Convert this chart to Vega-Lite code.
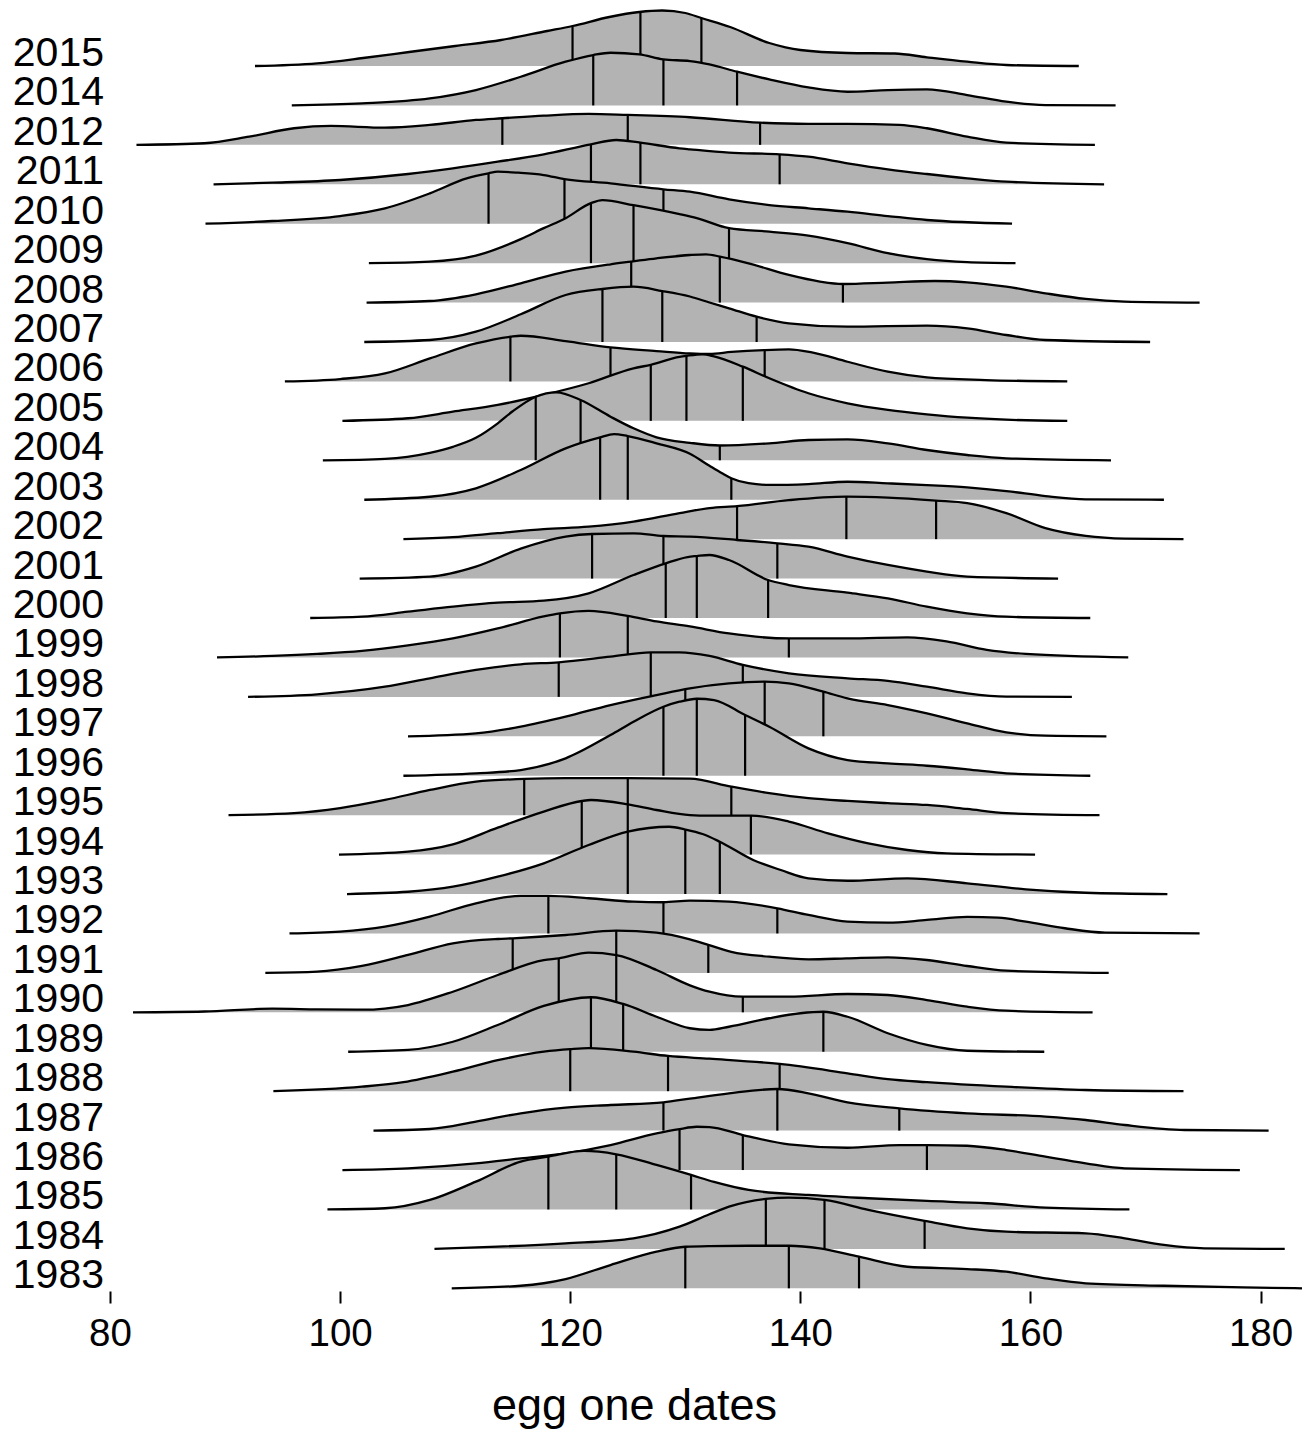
{
  "$schema": "https://vega.github.io/schema/vega-lite/v6.json",
  "padding": {"left": 12, "top": 5, "right": 4, "bottom": 4},
  "background": "white",
  "data": {"values": [
    {"year":2015,"x":92.6,"d":0},{"year":2015,"x":98,"d":2.7},{"year":2015,"x":102,"d":8},{"year":2015,"x":106,"d":14},{"year":2015,"x":110,"d":20},{"year":2015,"x":114,"d":26},{"year":2015,"x":118,"d":35},{"year":2015,"x":120.2,"d":40},{"year":2015,"x":123.4,"d":49},{"year":2015,"x":126,"d":54},{"year":2015,"x":128,"d":55.5},{"year":2015,"x":130,"d":53},{"year":2015,"x":131.4,"d":48},{"year":2015,"x":133.9,"d":39},{"year":2015,"x":137.3,"d":23},{"year":2015,"x":140,"d":16},{"year":2015,"x":144.1,"d":13},{"year":2015,"x":148.2,"d":12.5},{"year":2015,"x":151,"d":8.7},{"year":2015,"x":154.5,"d":4.3},{"year":2015,"x":157.9,"d":1},{"year":2015,"x":164.2,"d":0},
    {"year":2014,"x":95.8,"d":0},{"year":2014,"x":101.9,"d":2},{"year":2014,"x":107.8,"d":7},{"year":2014,"x":111.8,"d":15.4},{"year":2014,"x":115.7,"d":28.7},{"year":2014,"x":119.6,"d":43.7},{"year":2014,"x":122,"d":50.4},{"year":2014,"x":123.5,"d":52.7},{"year":2014,"x":126,"d":51},{"year":2014,"x":128.1,"d":46},{"year":2014,"x":130.4,"d":44.4},{"year":2014,"x":132.1,"d":41},{"year":2014,"x":134.5,"d":33.7},{"year":2014,"x":137.3,"d":26},{"year":2014,"x":140.7,"d":18},{"year":2014,"x":144.1,"d":13.7},{"year":2014,"x":147.6,"d":15.4},{"year":2014,"x":151,"d":16},{"year":2014,"x":154.5,"d":10.4},{"year":2014,"x":157.9,"d":3.7},{"year":2014,"x":161.3,"d":0.4},{"year":2014,"x":167.4,"d":0},
    {"year":2012,"x":82.3,"d":0},{"year":2012,"x":88.2,"d":1.6},{"year":2012,"x":92.1,"d":8.2},{"year":2012,"x":96,"d":16.6},{"year":2012,"x":99.2,"d":18.9},{"year":2012,"x":103.9,"d":17.2},{"year":2012,"x":107.8,"d":19.9},{"year":2012,"x":111.8,"d":24.9},{"year":2012,"x":114.1,"d":26.6},{"year":2012,"x":117.7,"d":29.2},{"year":2012,"x":121.6,"d":30.9},{"year":2012,"x":125,"d":29.9},{"year":2012,"x":130.4,"d":27.6},{"year":2012,"x":136.5,"d":22.2},{"year":2012,"x":140.7,"d":21},{"year":2012,"x":144.1,"d":21},{"year":2012,"x":148.6,"d":20},{"year":2012,"x":151,"d":16.6},{"year":2012,"x":154.5,"d":8.2},{"year":2012,"x":157.9,"d":2.2},{"year":2012,"x":165.6,"d":0},
    {"year":2011,"x":89,"d":0},{"year":2011,"x":94.1,"d":1.6},{"year":2011,"x":100,"d":4.3},{"year":2011,"x":105.9,"d":10.3},{"year":2011,"x":109.8,"d":16},{"year":2011,"x":113.7,"d":22.6},{"year":2011,"x":117.7,"d":30},{"year":2011,"x":121.8,"d":40},{"year":2011,"x":124,"d":44.3},{"year":2011,"x":126.1,"d":41.6},{"year":2011,"x":129.5,"d":36},{"year":2011,"x":130.4,"d":35},{"year":2011,"x":133.8,"d":31.6},{"year":2011,"x":138.2,"d":30},{"year":2011,"x":140.7,"d":27.6},{"year":2011,"x":144.1,"d":21},{"year":2011,"x":147.6,"d":15},{"year":2011,"x":151,"d":10.3},{"year":2011,"x":154.5,"d":6},{"year":2011,"x":157.9,"d":2.6},{"year":2011,"x":166.4,"d":0},
    {"year":2010,"x":88.3,"d":0},{"year":2010,"x":94.1,"d":2.7},{"year":2010,"x":100,"d":7.7},{"year":2010,"x":103.9,"d":15.4},{"year":2010,"x":107.8,"d":30.4},{"year":2010,"x":111,"d":45.4},{"year":2010,"x":112.9,"d":50.4},{"year":2010,"x":113.7,"d":52},{"year":2010,"x":115.5,"d":51},{"year":2010,"x":117.7,"d":48.7},{"year":2010,"x":119.5,"d":44.7},{"year":2010,"x":123.5,"d":40.4},{"year":2010,"x":128.1,"d":34.4},{"year":2010,"x":130.4,"d":32},{"year":2010,"x":133.8,"d":24.4},{"year":2010,"x":137.3,"d":18.7},{"year":2010,"x":140.7,"d":15.4},{"year":2010,"x":144.1,"d":12},{"year":2010,"x":147.6,"d":7.7},{"year":2010,"x":151,"d":3.7},{"year":2010,"x":158.4,"d":0},
    {"year":2009,"x":102.5,"d":0},{"year":2009,"x":107.8,"d":1.5},{"year":2009,"x":111.8,"d":7.5},{"year":2009,"x":115.7,"d":24},{"year":2009,"x":117.7,"d":35},{"year":2009,"x":119.6,"d":45},{"year":2009,"x":121.8,"d":60},{"year":2009,"x":122.8,"d":63},{"year":2009,"x":125.5,"d":58},{"year":2009,"x":129.5,"d":49},{"year":2009,"x":131,"d":45},{"year":2009,"x":133.8,"d":35},{"year":2009,"x":137.3,"d":31.5},{"year":2009,"x":140.7,"d":27.5},{"year":2009,"x":144.1,"d":20},{"year":2009,"x":147.6,"d":10},{"year":2009,"x":151,"d":4},{"year":2009,"x":154.5,"d":1},{"year":2009,"x":158.7,"d":0},
    {"year":2008,"x":102.3,"d":0},{"year":2008,"x":107.8,"d":1.6},{"year":2008,"x":111.8,"d":8.3},{"year":2008,"x":115.7,"d":19.3},{"year":2008,"x":119.6,"d":31},{"year":2008,"x":123.5,"d":38.3},{"year":2008,"x":125.3,"d":41},{"year":2008,"x":127.5,"d":44.3},{"year":2008,"x":130.4,"d":47.6},{"year":2008,"x":131.8,"d":48.3},{"year":2008,"x":133,"d":46},{"year":2008,"x":135.5,"d":39.3},{"year":2008,"x":139,"d":27.6},{"year":2008,"x":141.7,"d":21},{"year":2008,"x":143.7,"d":18.6},{"year":2008,"x":147.6,"d":20},{"year":2008,"x":151.7,"d":21.6},{"year":2008,"x":154.5,"d":20.3},{"year":2008,"x":157.9,"d":16},{"year":2008,"x":161.3,"d":9.3},{"year":2008,"x":164.8,"d":3.6},{"year":2008,"x":168.2,"d":1},{"year":2008,"x":174.7,"d":0},
    {"year":2007,"x":102.1,"d":0},{"year":2007,"x":107.8,"d":2},{"year":2007,"x":111.8,"d":10.3},{"year":2007,"x":115.7,"d":27.7},{"year":2007,"x":119.6,"d":47},{"year":2007,"x":122.8,"d":53},{"year":2007,"x":125.5,"d":55.3},{"year":2007,"x":128,"d":51},{"year":2007,"x":130.4,"d":45.5},{"year":2007,"x":132.1,"d":39.5},{"year":2007,"x":133.8,"d":33.7},{"year":2007,"x":136.2,"d":25.3},{"year":2007,"x":139,"d":18.7},{"year":2007,"x":144.1,"d":15.3},{"year":2007,"x":151,"d":16.3},{"year":2007,"x":154.5,"d":13.7},{"year":2007,"x":157.9,"d":7},{"year":2007,"x":161.3,"d":2},{"year":2007,"x":170.4,"d":0},
    {"year":2006,"x":95.2,"d":0},{"year":2006,"x":100,"d":2.4},{"year":2006,"x":103.9,"d":8},{"year":2006,"x":107.8,"d":23},{"year":2006,"x":111.8,"d":38},{"year":2006,"x":114.8,"d":44.7},{"year":2006,"x":115.7,"d":45.7},{"year":2006,"x":119.6,"d":40.4},{"year":2006,"x":123.5,"d":34},{"year":2006,"x":127.5,"d":30.4},{"year":2006,"x":130.4,"d":28},{"year":2006,"x":132.1,"d":27.5},{"year":2006,"x":134,"d":29.5},{"year":2006,"x":136.9,"d":31.4},{"year":2006,"x":139,"d":32},{"year":2006,"x":141,"d":29},{"year":2006,"x":144.1,"d":19.7},{"year":2006,"x":147.6,"d":9.7},{"year":2006,"x":151,"d":4},{"year":2006,"x":156.1,"d":1.4},{"year":2006,"x":163.2,"d":0},
    {"year":2005,"x":100.2,"d":0},{"year":2005,"x":105.9,"d":2.6},{"year":2005,"x":109.8,"d":9.2},{"year":2005,"x":113.7,"d":16},{"year":2005,"x":117.7,"d":26},{"year":2005,"x":121.6,"d":37.6},{"year":2005,"x":125.5,"d":52.6},{"year":2005,"x":127,"d":56},{"year":2005,"x":129.5,"d":64},{"year":2005,"x":130.1,"d":65},{"year":2005,"x":131.5,"d":66.6},{"year":2005,"x":132.5,"d":64.5},{"year":2005,"x":135,"d":54.2},{"year":2005,"x":137.3,"d":42.6},{"year":2005,"x":140.7,"d":27.6},{"year":2005,"x":144.1,"d":17.6},{"year":2005,"x":147.6,"d":11},{"year":2005,"x":151,"d":6.6},{"year":2005,"x":154.5,"d":3.2},{"year":2005,"x":157.9,"d":1.2},{"year":2005,"x":163.2,"d":0},
    {"year":2004,"x":98.5,"d":0},{"year":2004,"x":103.9,"d":1.5},{"year":2004,"x":107.8,"d":7.5},{"year":2004,"x":109.8,"d":13.5},{"year":2004,"x":111.8,"d":22.5},{"year":2004,"x":113.7,"d":37},{"year":2004,"x":115,"d":49},{"year":2004,"x":117,"d":63.6},{"year":2004,"x":118.8,"d":68},{"year":2004,"x":120.9,"d":60.3},{"year":2004,"x":123.5,"d":43.6},{"year":2004,"x":125.5,"d":32},{"year":2004,"x":127.5,"d":23},{"year":2004,"x":130.4,"d":17.5},{"year":2004,"x":133,"d":14.8},{"year":2004,"x":137.3,"d":17},{"year":2004,"x":140.7,"d":20.3},{"year":2004,"x":144.1,"d":21},{"year":2004,"x":147.6,"d":17},{"year":2004,"x":151,"d":10.3},{"year":2004,"x":154.5,"d":5.3},{"year":2004,"x":157.9,"d":2},{"year":2004,"x":167,"d":0},
    {"year":2003,"x":102.1,"d":0},{"year":2003,"x":107.8,"d":3},{"year":2003,"x":111.8,"d":11.4},{"year":2003,"x":115.7,"d":29.7},{"year":2003,"x":119.6,"d":51.4},{"year":2003,"x":122.6,"d":62.4},{"year":2003,"x":123.8,"d":65.7},{"year":2003,"x":125,"d":63.7},{"year":2003,"x":127.5,"d":56.4},{"year":2003,"x":130.4,"d":46},{"year":2003,"x":132.1,"d":34},{"year":2003,"x":133.2,"d":26.5},{"year":2003,"x":134,"d":21.5},{"year":2003,"x":135.5,"d":16.5},{"year":2003,"x":137.3,"d":14.8},{"year":2003,"x":140.7,"d":15.7},{"year":2003,"x":144.1,"d":18},{"year":2003,"x":147.6,"d":16.4},{"year":2003,"x":151,"d":14.7},{"year":2003,"x":154.5,"d":12.4},{"year":2003,"x":157.9,"d":8.7},{"year":2003,"x":161.3,"d":3.7},{"year":2003,"x":164.8,"d":0.4},{"year":2003,"x":171.6,"d":0},
    {"year":2002,"x":105.5,"d":0},{"year":2002,"x":109.8,"d":2},{"year":2002,"x":113.7,"d":6},{"year":2002,"x":117.7,"d":10},{"year":2002,"x":121.6,"d":12.5},{"year":2002,"x":125.5,"d":17.5},{"year":2002,"x":129.5,"d":26},{"year":2002,"x":132.1,"d":31},{"year":2002,"x":134.5,"d":33},{"year":2002,"x":139,"d":39},{"year":2002,"x":144,"d":42.5},{"year":2002,"x":147.6,"d":41.5},{"year":2002,"x":151.8,"d":38.5},{"year":2002,"x":154.5,"d":36},{"year":2002,"x":157.9,"d":26},{"year":2002,"x":161.3,"d":11},{"year":2002,"x":164.8,"d":3.2},{"year":2002,"x":168.2,"d":0.5},{"year":2002,"x":173.3,"d":0},
    {"year":2001,"x":101.7,"d":0},{"year":2001,"x":107.8,"d":2},{"year":2001,"x":111.8,"d":12},{"year":2001,"x":115.7,"d":30},{"year":2001,"x":119.6,"d":42},{"year":2001,"x":121.9,"d":44.6},{"year":2001,"x":125.5,"d":45.3},{"year":2001,"x":128.1,"d":42.6},{"year":2001,"x":130.4,"d":42},{"year":2001,"x":134.5,"d":38.6},{"year":2001,"x":138,"d":35.3},{"year":2001,"x":140.7,"d":32},{"year":2001,"x":144.1,"d":22},{"year":2001,"x":147.6,"d":13.6},{"year":2001,"x":151,"d":7},{"year":2001,"x":154.5,"d":2},{"year":2001,"x":162.4,"d":0},
    {"year":2000,"x":97.4,"d":0},{"year":2000,"x":101.9,"d":1.3},{"year":2000,"x":105.9,"d":6.3},{"year":2000,"x":109.8,"d":11.3},{"year":2000,"x":113.7,"d":15.3},{"year":2000,"x":117.7,"d":17.3},{"year":2000,"x":121.6,"d":24.7},{"year":2000,"x":125.5,"d":43},{"year":2000,"x":128.3,"d":54.7},{"year":2000,"x":130.2,"d":61},{"year":2000,"x":131,"d":62},{"year":2000,"x":132.1,"d":63},{"year":2000,"x":133.8,"d":58},{"year":2000,"x":137.2,"d":38},{"year":2000,"x":139,"d":33},{"year":2000,"x":144.1,"d":25.3},{"year":2000,"x":147.6,"d":19.7},{"year":2000,"x":151,"d":11.3},{"year":2000,"x":154.5,"d":4.7},{"year":2000,"x":157.9,"d":1.3},{"year":2000,"x":165.2,"d":0},
    {"year":1999,"x":89.3,"d":0},{"year":1999,"x":94.1,"d":1.5},{"year":1999,"x":98,"d":3.5},{"year":1999,"x":101.9,"d":6.5},{"year":1999,"x":105.9,"d":12},{"year":1999,"x":109.8,"d":19},{"year":1999,"x":113.7,"d":29},{"year":1999,"x":117.7,"d":41},{"year":1999,"x":119.1,"d":44},{"year":1999,"x":121.6,"d":46.5},{"year":1999,"x":125,"d":41.5},{"year":1999,"x":127.5,"d":36},{"year":1999,"x":130.4,"d":31},{"year":1999,"x":133.8,"d":24},{"year":1999,"x":139,"d":19},{"year":1999,"x":144.1,"d":19},{"year":1999,"x":149.3,"d":20},{"year":1999,"x":152.7,"d":16},{"year":1999,"x":156.2,"d":7.5},{"year":1999,"x":159.6,"d":3.5},{"year":1999,"x":168.5,"d":0},
    {"year":1998,"x":92,"d":0},{"year":1998,"x":98,"d":2.6},{"year":1998,"x":103.9,"d":10.2},{"year":1998,"x":107.8,"d":18.6},{"year":1998,"x":111.8,"d":27},{"year":1998,"x":115.7,"d":32.6},{"year":1998,"x":119,"d":34.6},{"year":1998,"x":123.5,"d":40.2},{"year":1998,"x":127,"d":44.6},{"year":1998,"x":129.5,"d":44.6},{"year":1998,"x":132.1,"d":41},{"year":1998,"x":135,"d":32},{"year":1998,"x":139,"d":23.6},{"year":1998,"x":144.1,"d":18.6},{"year":1998,"x":147.6,"d":16},{"year":1998,"x":151,"d":10.2},{"year":1998,"x":154.5,"d":3.6},{"year":1998,"x":157.9,"d":0.3},{"year":1998,"x":163.6,"d":0},
    {"year":1997,"x":105.9,"d":0},{"year":1997,"x":111.8,"d":3},{"year":1997,"x":115.7,"d":9.6},{"year":1997,"x":119.6,"d":19.6},{"year":1997,"x":123.5,"d":31.3},{"year":1997,"x":127.5,"d":41.3},{"year":1997,"x":130.4,"d":48},{"year":1997,"x":133.8,"d":53},{"year":1997,"x":136.9,"d":54.6},{"year":1997,"x":139,"d":53},{"year":1997,"x":142,"d":44.6},{"year":1997,"x":144.1,"d":38},{"year":1997,"x":147.6,"d":31.3},{"year":1997,"x":151,"d":23},{"year":1997,"x":154.5,"d":13},{"year":1997,"x":157.9,"d":4},{"year":1997,"x":161.3,"d":0.6},{"year":1997,"x":166.6,"d":0},
    {"year":1996,"x":105.5,"d":0},{"year":1996,"x":111.8,"d":2.4},{"year":1996,"x":115.7,"d":5.7},{"year":1996,"x":119.6,"d":17.4},{"year":1996,"x":123.5,"d":40.7},{"year":1996,"x":125.5,"d":54},{"year":1996,"x":128.1,"d":69},{"year":1996,"x":129.5,"d":74},{"year":1996,"x":131,"d":77},{"year":1996,"x":132.5,"d":75.7},{"year":1996,"x":135.2,"d":60.7},{"year":1996,"x":137.3,"d":49},{"year":1996,"x":140.7,"d":27.4},{"year":1996,"x":144.1,"d":15.7},{"year":1996,"x":147.6,"d":12.4},{"year":1996,"x":151,"d":10},{"year":1996,"x":154.5,"d":6.4},{"year":1996,"x":157.9,"d":2.4},{"year":1996,"x":165.2,"d":0},
    {"year":1995,"x":90.3,"d":0},{"year":1995,"x":96,"d":2},{"year":1995,"x":100,"d":7},{"year":1995,"x":103.9,"d":15.2},{"year":1995,"x":107.8,"d":25.2},{"year":1995,"x":111.8,"d":33.5},{"year":1995,"x":116,"d":36.2},{"year":1995,"x":119.6,"d":37},{"year":1995,"x":125,"d":37},{"year":1995,"x":130.4,"d":36.5},{"year":1995,"x":134,"d":28.5},{"year":1995,"x":137.3,"d":22},{"year":1995,"x":140.7,"d":17},{"year":1995,"x":144.1,"d":14.2},{"year":1995,"x":147.6,"d":12},{"year":1995,"x":151,"d":10.2},{"year":1995,"x":154.5,"d":6.2},{"year":1995,"x":157.9,"d":2},{"year":1995,"x":166,"d":0},
    {"year":1994,"x":99.9,"d":0},{"year":1994,"x":105.9,"d":3},{"year":1994,"x":109.8,"d":10.3},{"year":1994,"x":113.7,"d":27},{"year":1994,"x":117.7,"d":43},{"year":1994,"x":121,"d":53.6},{"year":1994,"x":121.8,"d":54.6},{"year":1994,"x":125,"d":50.3},{"year":1994,"x":127.5,"d":44.6},{"year":1994,"x":130.4,"d":39.5},{"year":1994,"x":132.1,"d":39},{"year":1994,"x":135.7,"d":39},{"year":1994,"x":139,"d":33},{"year":1994,"x":142.4,"d":21.3},{"year":1994,"x":145.9,"d":11.3},{"year":1994,"x":149.3,"d":4.6},{"year":1994,"x":152.7,"d":1.3},{"year":1994,"x":160.4,"d":0},
    {"year":1993,"x":100.6,"d":0},{"year":1993,"x":105.9,"d":2.3},{"year":1993,"x":109.8,"d":7.3},{"year":1993,"x":113.7,"d":17.3},{"year":1993,"x":117.7,"d":30.7},{"year":1993,"x":121.6,"d":49},{"year":1993,"x":125,"d":62.3},{"year":1993,"x":128.6,"d":67.3},{"year":1993,"x":130,"d":64.5},{"year":1993,"x":131.5,"d":60},{"year":1993,"x":133,"d":52.3},{"year":1993,"x":135.9,"d":34},{"year":1993,"x":138.3,"d":24},{"year":1993,"x":140.7,"d":15.7},{"year":1993,"x":144.1,"d":13.3},{"year":1993,"x":149.3,"d":15.7},{"year":1993,"x":154.5,"d":10.7},{"year":1993,"x":159.6,"d":4.7},{"year":1993,"x":164.8,"d":1.3},{"year":1993,"x":171.9,"d":0},
    {"year":1992,"x":95.6,"d":0},{"year":1992,"x":100,"d":1.8},{"year":1992,"x":103.9,"d":6.8},{"year":1992,"x":107.8,"d":16.8},{"year":1992,"x":111.8,"d":30.2},{"year":1992,"x":115.7,"d":37.5},{"year":1992,"x":118.1,"d":37.5},{"year":1992,"x":121.6,"d":35.2},{"year":1992,"x":125.5,"d":31.8},{"year":1992,"x":128.1,"d":31.2},{"year":1992,"x":130.4,"d":32.8},{"year":1992,"x":133.8,"d":31.8},{"year":1992,"x":138,"d":25.2},{"year":1992,"x":140.7,"d":18.5},{"year":1992,"x":144.1,"d":11.8},{"year":1992,"x":147.6,"d":10.8},{"year":1992,"x":151,"d":13.5},{"year":1992,"x":154.5,"d":16.5},{"year":1992,"x":157.2,"d":15.8},{"year":1992,"x":159.6,"d":11.8},{"year":1992,"x":163,"d":5.2},{"year":1992,"x":166.5,"d":0.8},{"year":1992,"x":174.7,"d":0},
    {"year":1991,"x":93.5,"d":0},{"year":1991,"x":98,"d":1.2},{"year":1991,"x":101.9,"d":6.9},{"year":1991,"x":105.9,"d":17.9},{"year":1991,"x":109.8,"d":29.6},{"year":1991,"x":113.7,"d":33.9},{"year":1991,"x":115,"d":34.6},{"year":1991,"x":119.6,"d":37.9},{"year":1991,"x":124,"d":42.2},{"year":1991,"x":127.5,"d":40.2},{"year":1991,"x":130.4,"d":33.5},{"year":1991,"x":132,"d":28},{"year":1991,"x":134,"d":21},{"year":1991,"x":137.3,"d":16.2},{"year":1991,"x":140.7,"d":13.6},{"year":1991,"x":144,"d":14.5},{"year":1991,"x":147.6,"d":15.6},{"year":1991,"x":151,"d":12.9},{"year":1991,"x":154.5,"d":6.9},{"year":1991,"x":157.9,"d":2.2},{"year":1991,"x":166.8,"d":0},
    {"year":1990,"x":82,"d":0},{"year":1990,"x":88.2,"d":0.8},{"year":1990,"x":94.1,"d":3.6},{"year":1990,"x":98,"d":3},{"year":1990,"x":101.9,"d":2.6},{"year":1990,"x":105.9,"d":7.3},{"year":1990,"x":109.8,"d":20.6},{"year":1990,"x":113.7,"d":37.3},{"year":1990,"x":117.7,"d":52.3},{"year":1990,"x":119,"d":54},{"year":1990,"x":121.6,"d":59.6},{"year":1990,"x":124,"d":57.3},{"year":1990,"x":127.5,"d":42.3},{"year":1990,"x":130.4,"d":27},{"year":1990,"x":132.1,"d":20.6},{"year":1990,"x":135,"d":15.6},{"year":1990,"x":139,"d":15.6},{"year":1990,"x":144.1,"d":18.3},{"year":1990,"x":147.6,"d":17.3},{"year":1990,"x":151,"d":12.3},{"year":1990,"x":154.5,"d":5.6},{"year":1990,"x":157.9,"d":1.6},{"year":1990,"x":165.4,"d":0},
    {"year":1989,"x":100.7,"d":0},{"year":1989,"x":105.9,"d":1.8},{"year":1989,"x":109.8,"d":10},{"year":1989,"x":113.7,"d":26.8},{"year":1989,"x":117.7,"d":45.8},{"year":1989,"x":121.8,"d":54.5},{"year":1989,"x":124.6,"d":47.8},{"year":1989,"x":127.5,"d":35},{"year":1989,"x":130.4,"d":23.5},{"year":1989,"x":132.1,"d":21.8},{"year":1989,"x":133.8,"d":25},{"year":1989,"x":137.3,"d":33.5},{"year":1989,"x":140,"d":38.5},{"year":1989,"x":142,"d":40},{"year":1989,"x":144.1,"d":35},{"year":1989,"x":147.6,"d":18.5},{"year":1989,"x":151,"d":6.8},{"year":1989,"x":154.5,"d":1},{"year":1989,"x":161.2,"d":0},
    {"year":1988,"x":94.2,"d":0},{"year":1988,"x":101.9,"d":4.5},{"year":1988,"x":105.5,"d":9},{"year":1988,"x":109.8,"d":19.5},{"year":1988,"x":113.7,"d":31},{"year":1988,"x":117.7,"d":39.5},{"year":1988,"x":120,"d":42},{"year":1988,"x":121.6,"d":43},{"year":1988,"x":125.5,"d":39.5},{"year":1988,"x":128.5,"d":35.2},{"year":1988,"x":132.1,"d":32.5},{"year":1988,"x":138.2,"d":27.2},{"year":1988,"x":144.1,"d":17.9},{"year":1988,"x":147.6,"d":12},{"year":1988,"x":151,"d":9},{"year":1988,"x":157.9,"d":4.5},{"year":1988,"x":164.8,"d":1.2},{"year":1988,"x":173.3,"d":0},
    {"year":1987,"x":102.9,"d":0},{"year":1987,"x":107.8,"d":1.6},{"year":1987,"x":111.8,"d":9},{"year":1987,"x":115.7,"d":17.3},{"year":1987,"x":119.6,"d":23},{"year":1987,"x":123.5,"d":25.6},{"year":1987,"x":128.1,"d":28.3},{"year":1987,"x":130.4,"d":32},{"year":1987,"x":133.8,"d":37.3},{"year":1987,"x":138,"d":41.6},{"year":1987,"x":140.7,"d":37.3},{"year":1987,"x":144.1,"d":28.3},{"year":1987,"x":148.6,"d":22.3},{"year":1987,"x":154.5,"d":17.3},{"year":1987,"x":161.3,"d":14},{"year":1987,"x":164.8,"d":10.6},{"year":1987,"x":168.2,"d":5.6},{"year":1987,"x":173.4,"d":0.6},{"year":1987,"x":180.7,"d":0},
    {"year":1986,"x":100.2,"d":0},{"year":1986,"x":105.9,"d":1.7},{"year":1986,"x":111.8,"d":6.7},{"year":1986,"x":115.7,"d":11.7},{"year":1986,"x":119.6,"d":16.7},{"year":1986,"x":123.5,"d":25},{"year":1986,"x":127.5,"d":36.7},{"year":1986,"x":129.5,"d":41},{"year":1986,"x":131,"d":43.3},{"year":1986,"x":132.1,"d":43},{"year":1986,"x":135,"d":35},{"year":1986,"x":139,"d":25.7},{"year":1986,"x":144.1,"d":22.3},{"year":1986,"x":148.6,"d":25},{"year":1986,"x":151,"d":25},{"year":1986,"x":154.5,"d":24.3},{"year":1986,"x":157.9,"d":20},{"year":1986,"x":161.3,"d":13.3},{"year":1986,"x":164.8,"d":6.7},{"year":1986,"x":168.2,"d":1.7},{"year":1986,"x":178.2,"d":0},
    {"year":1985,"x":98.9,"d":0},{"year":1985,"x":103.9,"d":1.2},{"year":1985,"x":107.8,"d":9.5},{"year":1985,"x":111.8,"d":27.8},{"year":1985,"x":115.7,"d":47.8},{"year":1985,"x":118.1,"d":52.8},{"year":1985,"x":121.2,"d":58.5},{"year":1985,"x":124,"d":55.2},{"year":1985,"x":127.5,"d":44.5},{"year":1985,"x":130.5,"d":34.5},{"year":1985,"x":132.5,"d":27.5},{"year":1985,"x":135.5,"d":19.5},{"year":1985,"x":140.7,"d":14.5},{"year":1985,"x":145.9,"d":11.2},{"year":1985,"x":151,"d":8.5},{"year":1985,"x":156.2,"d":6.2},{"year":1985,"x":161.3,"d":1.8},{"year":1985,"x":168.6,"d":0},
    {"year":1984,"x":108.2,"d":0},{"year":1984,"x":113.7,"d":2.2},{"year":1984,"x":119.6,"d":5.6},{"year":1984,"x":125.5,"d":10.6},{"year":1984,"x":129.5,"d":22.2},{"year":1984,"x":132.1,"d":34.6},{"year":1984,"x":133.8,"d":42.2},{"year":1984,"x":137,"d":50},{"year":1984,"x":139,"d":51.2},{"year":1984,"x":142.1,"d":49},{"year":1984,"x":145.9,"d":39},{"year":1984,"x":150.8,"d":28},{"year":1984,"x":154.5,"d":20.6},{"year":1984,"x":157.9,"d":17.2},{"year":1984,"x":164.8,"d":15.6},{"year":1984,"x":168.2,"d":10.6},{"year":1984,"x":171.6,"d":4},{"year":1984,"x":175.1,"d":0.6},{"year":1984,"x":182.1,"d":0},
    {"year":1983,"x":109.7,"d":0},{"year":1983,"x":115.7,"d":2.6},{"year":1983,"x":119.6,"d":9.3},{"year":1983,"x":123.5,"d":23.3},{"year":1983,"x":127.5,"d":36.6},{"year":1983,"x":130,"d":41.6},{"year":1983,"x":132.1,"d":42.3},{"year":1983,"x":135.5,"d":42.6},{"year":1983,"x":139,"d":42.6},{"year":1983,"x":141.7,"d":40},{"year":1983,"x":145.1,"d":31.6},{"year":1983,"x":149.3,"d":21.6},{"year":1983,"x":154.5,"d":19.3},{"year":1983,"x":157.9,"d":16.6},{"year":1983,"x":161.3,"d":10},{"year":1983,"x":164.8,"d":5},{"year":1983,"x":171.6,"d":2.6},{"year":1983,"x":178.5,"d":1},{"year":1983,"x":183.6,"d":0},
    {"year":2015,"q":120.2,"h":40},{"year":2015,"q":126.1,"h":54},{"year":2015,"q":131.4,"h":48},
    {"year":2014,"q":122,"h":50.4},{"year":2014,"q":128.1,"h":46},{"year":2014,"q":134.5,"h":33.7},
    {"year":2012,"q":114.1,"h":26.6},{"year":2012,"q":125,"h":29.9},{"year":2012,"q":136.5,"h":22.2},
    {"year":2011,"q":121.8,"h":40},{"year":2011,"q":126.1,"h":41.6},{"year":2011,"q":138.2,"h":30},
    {"year":2010,"q":112.9,"h":50.4},{"year":2010,"q":119.5,"h":44.7},{"year":2010,"q":128.1,"h":34.4},
    {"year":2009,"q":121.8,"h":60},{"year":2009,"q":125.5,"h":58},{"year":2009,"q":133.8,"h":35},
    {"year":2008,"q":125.3,"h":41},{"year":2008,"q":133,"h":46},{"year":2008,"q":143.7,"h":18.6},
    {"year":2007,"q":122.8,"h":53},{"year":2007,"q":128,"h":51},{"year":2007,"q":136.2,"h":25.3},
    {"year":2006,"q":114.8,"h":44.7},{"year":2006,"q":123.5,"h":34},{"year":2006,"q":136.9,"h":31.4},
    {"year":2005,"q":127,"h":56},{"year":2005,"q":130.1,"h":65},{"year":2005,"q":135,"h":54.2},
    {"year":2004,"q":117,"h":63.6},{"year":2004,"q":120.9,"h":60.3},{"year":2004,"q":133,"h":14.8},
    {"year":2003,"q":122.6,"h":62.4},{"year":2003,"q":125,"h":63.7},{"year":2003,"q":134,"h":21.5},
    {"year":2002,"q":134.5,"h":33},{"year":2002,"q":144,"h":42.5},{"year":2002,"q":151.8,"h":38.5},
    {"year":2001,"q":121.9,"h":44.6},{"year":2001,"q":128.1,"h":42.6},{"year":2001,"q":138,"h":35.3},
    {"year":2000,"q":128.3,"h":54.7},{"year":2000,"q":131,"h":62},{"year":2000,"q":137.2,"h":38},
    {"year":1999,"q":119.1,"h":44},{"year":1999,"q":125,"h":41.5},{"year":1999,"q":139,"h":19},
    {"year":1998,"q":119,"h":34.6},{"year":1998,"q":127,"h":44.6},{"year":1998,"q":135,"h":32},
    {"year":1997,"q":130,"h":47},{"year":1997,"q":136.9,"h":54.6},{"year":1997,"q":142,"h":44.6},
    {"year":1996,"q":128.1,"h":69},{"year":1996,"q":131,"h":77},{"year":1996,"q":135.2,"h":60.7},
    {"year":1995,"q":116,"h":36.2},{"year":1995,"q":125,"h":37},{"year":1995,"q":134,"h":28.5},
    {"year":1994,"q":121,"h":53.6},{"year":1994,"q":125,"h":50.3},{"year":1994,"q":135.7,"h":39},
    {"year":1993,"q":125,"h":62.3},{"year":1993,"q":130,"h":64.5},{"year":1993,"q":133,"h":52.3},
    {"year":1992,"q":118.1,"h":37.5},{"year":1992,"q":128.1,"h":31.2},{"year":1992,"q":138,"h":25.2},
    {"year":1991,"q":115,"h":34.6},{"year":1991,"q":124,"h":42.2},{"year":1991,"q":132,"h":28},
    {"year":1990,"q":119,"h":54},{"year":1990,"q":124,"h":57.3},{"year":1990,"q":135,"h":15.6},
    {"year":1989,"q":121.8,"h":54.5},{"year":1989,"q":124.6,"h":47.8},{"year":1989,"q":142,"h":40},
    {"year":1988,"q":120,"h":42},{"year":1988,"q":128.5,"h":35.2},{"year":1988,"q":138.2,"h":27.2},
    {"year":1987,"q":128.1,"h":28.3},{"year":1987,"q":138,"h":41.6},{"year":1987,"q":148.6,"h":22.3},
    {"year":1986,"q":129.5,"h":41},{"year":1986,"q":135,"h":35},{"year":1986,"q":151,"h":25},
    {"year":1985,"q":118.1,"h":52.8},{"year":1985,"q":124,"h":55.2},{"year":1985,"q":130.5,"h":34.5},
    {"year":1984,"q":137,"h":50},{"year":1984,"q":142.1,"h":49},{"year":1984,"q":150.8,"h":28},
    {"year":1983,"q":130,"h":41.6},{"year":1983,"q":139,"h":42.6},{"year":1983,"q":145.1,"h":31.6}
  ]},
  "facet": {
    "row": {
      "field": "year", "type": "ordinal", "sort": "descending", "title": null,
      "header": {"labelAngle": 0, "labelAlign": "left", "labelAnchor": "start", "labelBaseline": "alphabetic", "labelFont": "Liberation Sans", "labelFontSize": 41, "labelColor": "black", "labelPadding": 6}
    }
  },
  "spacing": 0.43,
  "bounds": "flush",
  "spec": {
    "width": 1192,
    "height": 39,
    "layer": [
      {
        "transform": [{"filter": "isValid(datum.x)"}],
        "mark": {"type": "area", "interpolate": "monotone", "color": "#b3b3b3", "opacity": 1},
        "encoding": {
          "x": {"field": "x", "type": "quantitative", "title": "egg one dates", "scale": {"domain": [80, 183.6], "nice": false, "zero": false},
            "axis": {"values": [80, 100, 120, 140, 160, 180], "labelFlush": false, "labelOverlap": false, "domain": false, "grid": false, "ticks": true, "tickColor": "black", "tickWidth": 2, "tickSize": 12, "offset": 2, "labelFont": "Liberation Sans", "labelFontSize": 38.5, "labelColor": "black", "labelPadding": 12, "titleFont": "Liberation Sans", "titleFontSize": 45, "titleFontWeight": "normal", "titleColor": "black", "titleBaseline": "alphabetic", "titleAlign": "center", "titleX": 524, "titleY": 128}},
          "y": {"field": "d", "type": "quantitative", "axis": null, "scale": {"domain": [0, 100], "range": [39, -61], "nice": false, "zero": true}}
        }
      },
      {
        "transform": [{"filter": "isValid(datum.x)"}],
        "mark": {"type": "line", "interpolate": "monotone", "color": "black", "strokeWidth": 2.3},
        "encoding": {
          "x": {"field": "x", "type": "quantitative", "title": "egg one dates",
            "axis": {"values": [80, 100, 120, 140, 160, 180], "labelFlush": false, "labelOverlap": false, "domain": false, "grid": false, "ticks": true, "tickColor": "black", "tickWidth": 2, "tickSize": 12, "offset": 2, "labelFont": "Liberation Sans", "labelFontSize": 38.5, "labelColor": "black", "labelPadding": 12, "titleFont": "Liberation Sans", "titleFontSize": 45, "titleFontWeight": "normal", "titleColor": "black", "titleBaseline": "alphabetic", "titleAlign": "center", "titleX": 524, "titleY": 128}},
          "y": {"field": "d", "type": "quantitative", "axis": null}
        }
      },
      {
        "transform": [{"filter": "isValid(datum.q)"}],
        "mark": {"type": "rule", "color": "black", "strokeWidth": 2.2},
        "encoding": {
          "x": {"field": "q", "type": "quantitative", "title": "egg one dates",
            "axis": {"values": [80, 100, 120, 140, 160, 180], "labelFlush": false, "labelOverlap": false, "domain": false, "grid": false, "ticks": true, "tickColor": "black", "tickWidth": 2, "tickSize": 12, "offset": 2, "labelFont": "Liberation Sans", "labelFontSize": 38.5, "labelColor": "black", "labelPadding": 12, "titleFont": "Liberation Sans", "titleFontSize": 45, "titleFontWeight": "normal", "titleColor": "black", "titleBaseline": "alphabetic", "titleAlign": "center", "titleX": 524, "titleY": 128}},
          "y": {"field": "h", "type": "quantitative", "axis": null},
          "y2": {"datum": 0}
        }
      }
    ]
  },
  "config": {
    "view": {"stroke": null},
    "font": "Liberation Sans"
  }
}
